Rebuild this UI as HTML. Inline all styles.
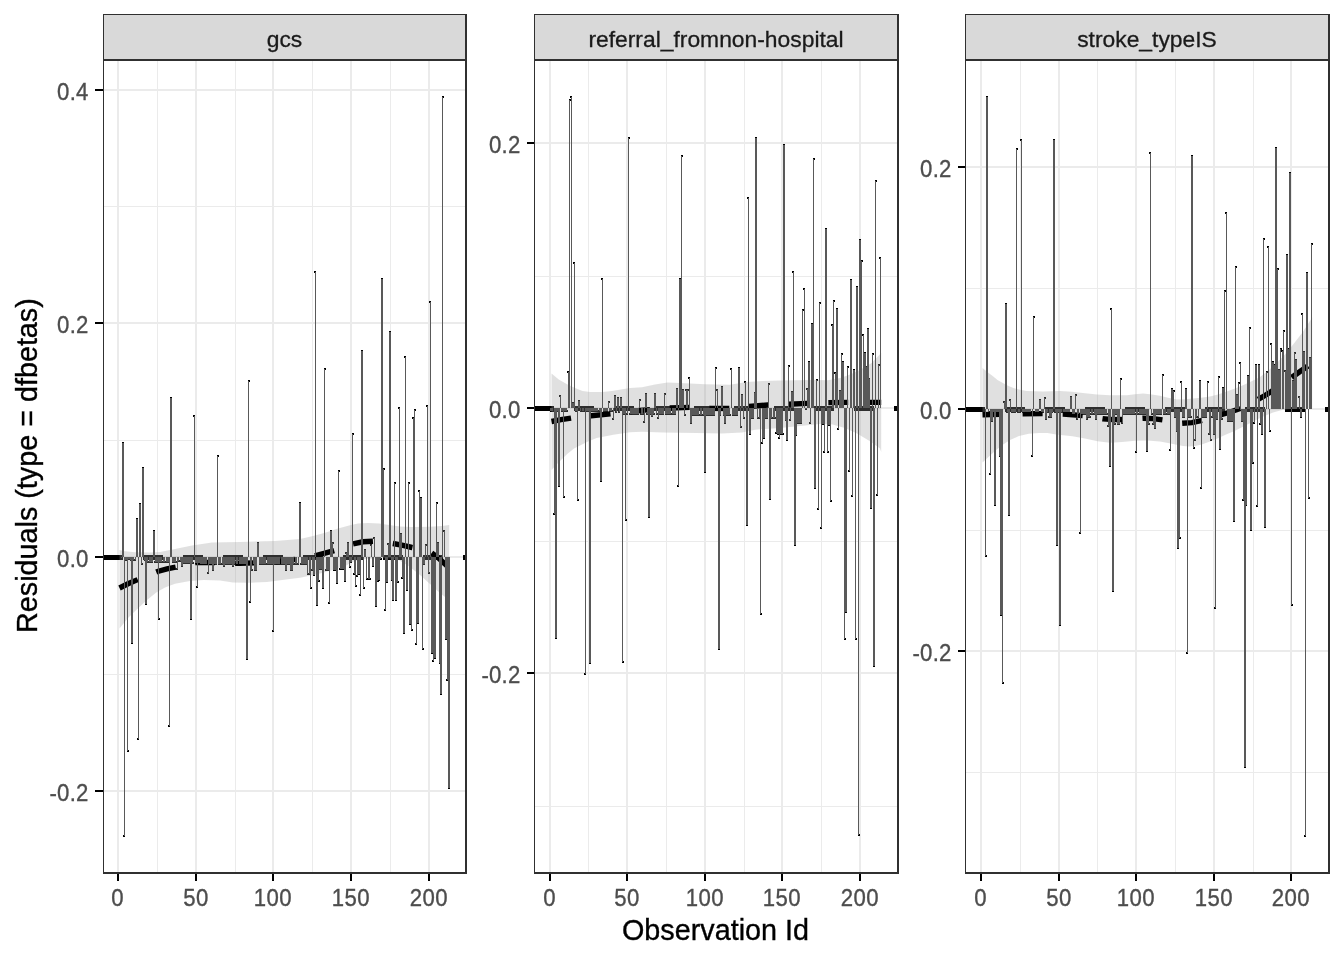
<!DOCTYPE html>
<html lang="en"><head><meta charset="utf-8"><title>Residuals (type = dfbetas)</title>
<style>html,body{margin:0;padding:0;background:#fff;}body{width:1344px;height:960px;overflow:hidden;}svg{display:block;}text{font-family:"Liberation Sans",Arial,sans-serif;}.at{font-size:24.5px;fill:#4d4d4d;stroke:#4d4d4d;stroke-width:0.35px;}.st{font-size:22.85px;fill:#1a1a1a;stroke:#1a1a1a;stroke-width:0.3px;}.ti{font-size:28.75px;fill:#000;stroke:#000;stroke-width:0.35px;}</style>
</head><body>
<svg width="1344" height="960" viewBox="0 0 1344 960">
<rect x="0" y="0" width="1344" height="960" fill="#fff"/>
<g>
<clipPath id="c0"><rect x="103" y="60" width="364" height="814"/></clipPath>
<rect x="103" y="14" width="364" height="46" fill="#d9d9d9"/>
<g clip-path="url(#c0)">
<path d="M103 206h364v1h-364zM103 440h364v1h-364zM103 674h364v1h-364zM157 59h1v815h-1zM235 59h1v815h-1zM312 59h1v815h-1zM390 59h1v815h-1zM103 89h364v2h-364zM103 322h364v2h-364zM103 556h364v2h-364zM103 790h364v2h-364zM117 59h2v815h-2zM195 59h2v815h-2zM272 59h2v815h-2zM350 59h2v815h-2zM428 59h2v815h-2z" fill="#ebebeb"/>
<path d="M119 556h2v2h-2zM120 557h2v2h-2zM122 442h2v2h-2zM123 835h2v2h-2zM125 559h2v2h-2zM127 750h2v2h-2zM128 558h2v2h-2zM130 559h2v2h-2zM131 642h2v2h-2zM133 559h2v2h-2zM134 559h2v2h-2zM136 518h2v2h-2zM137 738h2v2h-2zM139 503h2v2h-2zM141 563h2v2h-2zM142 467h2v2h-2zM144 559h2v2h-2zM145 603h2v2h-2zM147 561h2v2h-2zM148 561h2v2h-2zM150 561h2v2h-2zM151 561h2v2h-2zM153 530h2v2h-2zM154 561h2v2h-2zM156 561h2v2h-2zM158 618h2v2h-2zM159 561h2v2h-2zM161 561h2v2h-2zM162 561h2v2h-2zM164 561h2v2h-2zM165 561h2v2h-2zM167 561h2v2h-2zM168 725h2v2h-2zM170 397h2v2h-2zM172 561h2v2h-2zM173 561h2v2h-2zM175 561h2v2h-2zM176 568h2v2h-2zM178 560h2v2h-2zM179 560h2v2h-2zM181 565h2v2h-2zM182 562h2v2h-2zM184 562h2v2h-2zM186 562h2v2h-2zM187 562h2v2h-2zM189 562h2v2h-2zM190 618h2v2h-2zM192 562h2v2h-2zM193 415h2v2h-2zM195 562h2v2h-2zM196 586h2v2h-2zM198 562h2v2h-2zM200 563h2v2h-2zM201 563h2v2h-2zM203 563h2v2h-2zM204 563h2v2h-2zM206 563h2v2h-2zM207 572h2v2h-2zM209 563h2v2h-2zM210 563h2v2h-2zM212 569h2v2h-2zM213 563h2v2h-2zM215 563h2v2h-2zM217 455h2v2h-2zM218 563h2v2h-2zM220 563h2v2h-2zM221 563h2v2h-2zM223 565h2v2h-2zM224 563h2v2h-2zM226 563h2v2h-2zM227 563h2v2h-2zM229 563h2v2h-2zM231 563h2v2h-2zM232 565h2v2h-2zM234 563h2v2h-2zM235 563h2v2h-2zM237 563h2v2h-2zM238 563h2v2h-2zM240 563h2v2h-2zM241 563h2v2h-2zM243 563h2v2h-2zM245 563h2v2h-2zM246 658h2v2h-2zM248 380h2v2h-2zM249 601h2v2h-2zM251 569h2v2h-2zM252 563h2v2h-2zM254 569h2v2h-2zM255 569h2v2h-2zM257 542h2v2h-2zM259 563h2v2h-2zM260 563h2v2h-2zM262 563h2v2h-2zM263 563h2v2h-2zM265 563h2v2h-2zM266 563h2v2h-2zM268 563h2v2h-2zM269 563h2v2h-2zM271 563h2v2h-2zM272 630h2v2h-2zM274 563h2v2h-2zM276 563h2v2h-2zM277 563h2v2h-2zM279 563h2v2h-2zM280 563h2v2h-2zM282 563h2v2h-2zM283 563h2v2h-2zM285 569h2v2h-2zM286 563h2v2h-2zM288 563h2v2h-2zM290 569h2v2h-2zM291 569h2v2h-2zM293 563h2v2h-2zM294 563h2v2h-2zM296 563h2v2h-2zM297 563h2v2h-2zM299 502h2v2h-2zM300 563h2v2h-2zM302 563h2v2h-2zM304 563h2v2h-2zM305 563h2v2h-2zM307 573h2v2h-2zM308 573h2v2h-2zM310 587h2v2h-2zM311 569h2v2h-2zM313 574h2v2h-2zM314 271h2v2h-2zM316 604h2v2h-2zM318 580h2v2h-2zM319 568h2v2h-2zM321 568h2v2h-2zM322 587h2v2h-2zM324 368h2v2h-2zM325 569h2v2h-2zM327 569h2v2h-2zM328 602h2v2h-2zM330 530h2v2h-2zM332 542h2v2h-2zM333 569h2v2h-2zM335 569h2v2h-2zM336 582h2v2h-2zM338 470h2v2h-2zM339 568h2v2h-2zM341 568h2v2h-2zM342 568h2v2h-2zM344 580h2v2h-2zM345 552h2v2h-2zM347 542h2v2h-2zM349 566h2v2h-2zM350 561h2v2h-2zM352 433h2v2h-2zM353 573h2v2h-2zM355 585h2v2h-2zM356 575h2v2h-2zM358 573h2v2h-2zM359 594h2v2h-2zM361 350h2v2h-2zM363 587h2v2h-2zM364 549h2v2h-2zM366 578h2v2h-2zM367 578h2v2h-2zM369 578h2v2h-2zM370 544h2v2h-2zM372 565h2v2h-2zM373 537h2v2h-2zM375 605h2v2h-2zM377 580h2v2h-2zM378 579h2v2h-2zM380 558h2v2h-2zM381 278h2v2h-2zM383 468h2v2h-2zM384 609h2v2h-2zM386 581h2v2h-2zM387 543h2v2h-2zM389 331h2v2h-2zM391 579h2v2h-2zM392 599h2v2h-2zM394 482h2v2h-2zM395 599h2v2h-2zM397 581h2v2h-2zM398 407h2v2h-2zM400 533h2v2h-2zM401 577h2v2h-2zM403 632h2v2h-2zM404 356h2v2h-2zM406 589h2v2h-2zM408 482h2v2h-2zM409 623h2v2h-2zM411 629h2v2h-2zM412 417h2v2h-2zM414 409h2v2h-2zM415 643h2v2h-2zM417 622h2v2h-2zM418 490h2v2h-2zM420 497h2v2h-2zM422 648h2v2h-2zM423 563h2v2h-2zM425 544h2v2h-2zM426 405h2v2h-2zM428 572h2v2h-2zM429 301h2v2h-2zM431 652h2v2h-2zM432 660h2v2h-2zM434 657h2v2h-2zM436 502h2v2h-2zM437 542h2v2h-2zM439 662h2v2h-2zM440 693h2v2h-2zM442 96h2v2h-2zM443 530h2v2h-2zM445 638h2v2h-2zM446 679h2v2h-2zM448 787h2v2h-2z" fill="#000" shape-rendering="crispEdges"/>
<path d="M103 555h20v5h-20zM143 555h20v5h-20zM183 555h20v5h-20zM223 555h20v5h-20zM263 555h20v5h-20zM303 555h20v5h-20zM343 555h20v5h-20zM383 555h20v5h-20zM423 555h20v5h-20zM463 555h4v5h-4z" fill="#000"/>
<polygon points="119.5,550 125,551.3 135,552.3 150,552.5 160,552 175,549 192,545.5 212,542.5 240,542 275,541 300,539 312,536.3 325,532.8 338,528.5 350,525.3 358,523.5 368,523 379,523.5 391,525.3 400,526.5 412,527 430,526.7 442,526 449.2,525 449.2,601 445,597 440,593 430,584 420,575 410,567 399.2,560.3 390,558.5 380,558 365,559 352,562 346.7,565.3 340,567.5 331.7,570.3 322,573 312,575.3 300,577.8 290,579 267,582 250,582.8 233,582.5 220,580.5 203.75,580 190,581 175,583.75 165,587.5 156.25,592.5 147,600 137.5,608.75 128,618 119.5,628.5" fill="#999" fill-opacity="0.3"/>
<polyline points="119.5,588 128,583.8 138,579.5 148,575.2 157.5,571.5 167,568.8 176,567 188,563.3 200,562.2 220,562.8 240,563.3 260,562.7 280,561.5 298,559 314,556 325,553.2 335,550.3 345,546.6 353,543.9 363,541.8 373,541.2 383,541.8 393,543.5 403,545.4 412,547.5 422,549.5 431,552.5 438,557.5 445,564 449.2,568" stroke="#000" stroke-width="5.4" stroke-dasharray="20.05 20.05" fill="none"/>
<path d="M121 557h1v1h-1zM122 443h2v114h-2zM124 557h1v279h-1zM125 557h2v3h-2zM127 557h1v194h-1zM128 557h2v2h-2zM130 557h1v3h-1zM131 557h2v86h-2zM133 557h1v3h-1zM135 557h1v3h-1zM136 519h2v38h-2zM138 557h1v182h-1zM139 504h2v53h-2zM141 557h1v7h-1zM142 468h2v89h-2zM144 557h1v3h-1zM145 557h2v47h-2zM147 557h1v5h-1zM149 557h1v5h-1zM150 557h2v5h-2zM152 557h1v5h-1zM153 531h2v26h-2zM155 557h1v5h-1zM156 557h2v5h-2zM158 557h1v62h-1zM159 557h2v5h-2zM161 557h1v5h-1zM163 557h1v5h-1zM164 557h1v5h-1zM166 557h1v5h-1zM167 557h2v5h-2zM169 557h1v169h-1zM170 398h2v159h-2zM172 557h1v5h-1zM173 557h2v5h-2zM175 557h1v5h-1zM177 557h1v12h-1zM178 557h1v4h-1zM180 557h1v4h-1zM181 557h2v9h-2zM183 557h1v6h-1zM184 557h2v6h-2zM186 557h1v6h-1zM187 557h2v6h-2zM189 557h1v6h-1zM190 557h2v62h-2zM192 557h1v6h-1zM194 416h1v141h-1zM195 557h2v6h-2zM197 557h1v30h-1zM198 557h2v6h-2zM200 557h1v7h-1zM201 557h2v7h-2zM203 557h1v7h-1zM204 557h2v7h-2zM206 557h1v7h-1zM208 557h1v16h-1zM209 557h2v7h-2zM211 557h1v7h-1zM212 557h2v13h-2zM214 557h1v7h-1zM215 557h2v7h-2zM217 456h1v101h-1zM218 557h2v7h-2zM220 557h1v7h-1zM222 557h1v7h-1zM223 557h2v9h-2zM225 557h1v7h-1zM226 557h2v7h-2zM228 557h1v7h-1zM229 557h2v7h-2zM231 557h1v7h-1zM232 557h2v9h-2zM234 557h1v7h-1zM236 557h1v7h-1zM237 557h1v7h-1zM239 557h1v7h-1zM240 557h2v7h-2zM242 557h1v7h-1zM243 557h2v7h-2zM245 557h1v7h-1zM246 557h2v102h-2zM248 381h1v176h-1zM250 557h1v45h-1zM251 557h1v13h-1zM253 557h1v7h-1zM254 557h2v13h-2zM256 557h1v13h-1zM257 543h2v14h-2zM259 557h1v7h-1zM260 557h2v7h-2zM262 557h1v7h-1zM263 557h2v7h-2zM265 557h1v7h-1zM267 557h1v7h-1zM268 557h2v7h-2zM270 557h1v7h-1zM271 557h2v7h-2zM273 557h1v74h-1zM274 557h2v7h-2zM276 557h1v7h-1zM277 557h2v7h-2zM279 557h1v7h-1zM281 557h1v7h-1zM282 557h2v7h-2zM284 557h1v7h-1zM285 557h2v13h-2zM287 557h1v7h-1zM288 557h2v7h-2zM290 557h1v13h-1zM291 557h2v13h-2zM293 557h1v7h-1zM295 557h1v7h-1zM296 557h1v7h-1zM298 557h1v7h-1zM299 503h2v54h-2zM301 557h1v7h-1zM302 557h2v7h-2zM304 557h1v7h-1zM305 557h2v7h-2zM307 557h1v17h-1zM309 557h1v17h-1zM310 557h1v31h-1zM312 557h1v13h-1zM313 557h2v18h-2zM315 272h1v285h-1zM316 557h2v48h-2zM318 557h1v24h-1zM319 557h2v12h-2zM321 557h1v12h-1zM322 557h2v31h-2zM324 369h1v188h-1zM326 557h1v13h-1zM327 557h2v13h-2zM329 557h1v46h-1zM330 531h2v26h-2zM332 543h1v14h-1zM333 557h2v13h-2zM335 557h1v13h-1zM336 557h2v26h-2zM338 471h1v86h-1zM340 557h1v12h-1zM341 557h2v12h-2zM343 557h1v12h-1zM344 557h2v24h-2zM346 553h1v4h-1zM347 543h2v14h-2zM349 557h1v10h-1zM350 557h2v5h-2zM352 434h1v123h-1zM354 557h1v17h-1zM355 557h1v29h-1zM357 557h1v19h-1zM358 557h2v17h-2zM360 557h1v38h-1zM361 351h2v206h-2zM363 557h1v31h-1zM364 550h2v7h-2zM366 557h1v22h-1zM368 557h1v22h-1zM369 557h1v22h-1zM371 545h1v12h-1zM372 557h2v9h-2zM374 538h1v19h-1zM375 557h2v49h-2zM377 557h1v24h-1zM378 557h2v23h-2zM380 557h1v2h-1zM381 279h2v278h-2zM383 469h1v88h-1zM385 557h1v53h-1zM386 557h2v25h-2zM388 544h1v13h-1zM389 332h2v225h-2zM391 557h1v23h-1zM392 557h2v43h-2zM394 483h1v74h-1zM395 557h2v43h-2zM397 557h1v25h-1zM399 408h1v149h-1zM400 534h2v23h-2zM402 557h1v21h-1zM403 557h2v76h-2zM405 357h1v200h-1zM406 557h2v33h-2zM408 483h1v74h-1zM409 557h2v67h-2zM411 557h1v73h-1zM413 418h1v139h-1zM414 410h1v147h-1zM416 557h1v87h-1zM417 557h2v66h-2zM419 491h1v66h-1zM420 498h2v59h-2zM422 557h1v92h-1zM423 557h2v7h-2zM425 545h1v12h-1zM427 406h1v151h-1zM428 557h1v16h-1zM430 302h1v255h-1zM431 557h2v96h-2zM433 557h1v104h-1zM434 557h2v101h-2zM436 503h1v54h-1zM437 543h2v14h-2zM439 557h1v106h-1zM440 557h2v137h-2zM442 97h1v460h-1zM444 531h1v26h-1zM445 557h2v82h-2zM447 557h1v123h-1zM448 557h2v231h-2z" fill="#595959" shape-rendering="crispEdges"/>
</g>
<path d="M103 14h364v1h-364z M103 59h364v2h-364z M103 872h364v2h-364z M103 14h1v860h-1z M465 14h2v860h-2z" fill="#303030"/>
<path d="M95 89h8v2h-8z M95 322h8v2h-8z M95 556h8v2h-8z M95 790h8v2h-8z M117 874h2v7h-2z M195 874h2v7h-2z M272 874h2v7h-2z M350 874h2v7h-2z M428 874h2v7h-2z" fill="#000"/>
<text class="at" transform="translate(88.6 99.7) scale(0.905 1)" text-anchor="end" letter-spacing="0.25">0.4</text>
<text class="at" transform="translate(88.6 333.4) scale(0.905 1)" text-anchor="end" letter-spacing="0.25">0.2</text>
<text class="at" transform="translate(88.6 567.1) scale(0.905 1)" text-anchor="end" letter-spacing="0.25">0.0</text>
<text class="at" transform="translate(88.6 800.8) scale(0.905 1)" text-anchor="end" letter-spacing="0.25">-0.2</text>
<text class="at" transform="translate(117.4 906) scale(0.905 1)" text-anchor="middle" letter-spacing="0">0</text>
<text class="at" transform="translate(195.95 906) scale(0.905 1)" text-anchor="middle" letter-spacing="0.45">50</text>
<text class="at" transform="translate(272.95 906) scale(0.905 1)" text-anchor="middle" letter-spacing="0.45">100</text>
<text class="at" transform="translate(350.95 906) scale(0.905 1)" text-anchor="middle" letter-spacing="0.45">150</text>
<text class="at" transform="translate(428.95 906) scale(0.905 1)" text-anchor="middle" letter-spacing="0.45">200</text>
<text class="st" x="284.5" y="46.8" text-anchor="middle">gcs</text>
</g>
<g>
<clipPath id="c1"><rect x="534" y="60" width="365" height="814"/></clipPath>
<rect x="534" y="14" width="365" height="46" fill="#d9d9d9"/>
<g clip-path="url(#c1)">
<path d="M534 276h365v1h-365zM534 541h365v1h-365zM534 806h365v1h-365zM588 59h1v815h-1zM666 59h1v815h-1zM744 59h1v815h-1zM821 59h1v815h-1zM534 142h365v2h-365zM534 407h365v2h-365zM534 672h365v2h-365zM549 59h2v815h-2zM626 59h2v815h-2zM704 59h2v815h-2zM781 59h2v815h-2zM859 59h2v815h-2z" fill="#ebebeb"/>
<path d="M550 410h2v2h-2zM552 410h2v2h-2zM553 513h2v2h-2zM555 637h2v2h-2zM556 410h2v2h-2zM558 485h2v2h-2zM559 395h2v2h-2zM561 410h2v2h-2zM563 496h2v2h-2zM564 410h2v2h-2zM566 410h2v2h-2zM567 371h2v2h-2zM569 99h2v2h-2zM570 96h2v2h-2zM572 402h2v2h-2zM573 262h2v2h-2zM575 410h2v2h-2zM577 499h2v2h-2zM578 400h2v2h-2zM580 410h2v2h-2zM581 410h2v2h-2zM583 410h2v2h-2zM584 673h2v2h-2zM586 410h2v2h-2zM587 410h2v2h-2zM589 662h2v2h-2zM591 410h2v2h-2zM592 410h2v2h-2zM594 410h2v2h-2zM595 410h2v2h-2zM597 410h2v2h-2zM598 410h2v2h-2zM600 480h2v2h-2zM601 278h2v2h-2zM603 410h2v2h-2zM605 410h2v2h-2zM606 410h2v2h-2zM608 401h2v2h-2zM609 410h2v2h-2zM611 410h2v2h-2zM612 418h2v2h-2zM614 395h2v2h-2zM615 411h2v2h-2zM617 397h2v2h-2zM618 411h2v2h-2zM620 397h2v2h-2zM622 661h2v2h-2zM623 413h2v2h-2zM625 519h2v2h-2zM626 413h2v2h-2zM628 137h2v2h-2zM629 413h2v2h-2zM631 413h2v2h-2zM632 413h2v2h-2zM634 413h2v2h-2zM636 413h2v2h-2zM637 413h2v2h-2zM639 399h2v2h-2zM640 413h2v2h-2zM642 413h2v2h-2zM643 421h2v2h-2zM645 393h2v2h-2zM646 413h2v2h-2zM648 516h2v2h-2zM650 413h2v2h-2zM651 415h2v2h-2zM653 413h2v2h-2zM654 393h2v2h-2zM656 413h2v2h-2zM657 417h2v2h-2zM659 413h2v2h-2zM660 413h2v2h-2zM662 413h2v2h-2zM664 393h2v2h-2zM665 413h2v2h-2zM667 413h2v2h-2zM668 413h2v2h-2zM670 413h2v2h-2zM671 413h2v2h-2zM673 413h2v2h-2zM674 413h2v2h-2zM676 388h2v2h-2zM677 485h2v2h-2zM679 278h2v2h-2zM681 155h2v2h-2zM682 389h2v2h-2zM684 414h2v2h-2zM685 389h2v2h-2zM687 389h2v2h-2zM688 377h2v2h-2zM690 422h2v2h-2zM691 414h2v2h-2zM693 414h2v2h-2zM695 414h2v2h-2zM696 414h2v2h-2zM698 414h2v2h-2zM699 414h2v2h-2zM701 414h2v2h-2zM702 414h2v2h-2zM704 471h2v2h-2zM705 414h2v2h-2zM707 414h2v2h-2zM709 414h2v2h-2zM710 414h2v2h-2zM712 414h2v2h-2zM713 414h2v2h-2zM715 367h2v2h-2zM716 389h2v2h-2zM718 648h2v2h-2zM719 414h2v2h-2zM721 386h2v2h-2zM723 414h2v2h-2zM724 422h2v2h-2zM726 414h2v2h-2zM727 414h2v2h-2zM729 414h2v2h-2zM730 368h2v2h-2zM732 414h2v2h-2zM733 414h2v2h-2zM735 414h2v2h-2zM736 414h2v2h-2zM738 367h2v2h-2zM740 426h2v2h-2zM741 394h2v2h-2zM743 417h2v2h-2zM744 381h2v2h-2zM746 524h2v2h-2zM747 197h2v2h-2zM749 433h2v2h-2zM750 417h2v2h-2zM752 417h2v2h-2zM754 392h2v2h-2zM755 137h2v2h-2zM757 417h2v2h-2zM758 417h2v2h-2zM760 613h2v2h-2zM761 442h2v2h-2zM763 437h2v2h-2zM764 417h2v2h-2zM766 417h2v2h-2zM768 383h2v2h-2zM769 498h2v2h-2zM771 417h2v2h-2zM772 417h2v2h-2zM774 417h2v2h-2zM775 432h2v2h-2zM777 433h2v2h-2zM778 437h2v2h-2zM780 433h2v2h-2zM782 433h2v2h-2zM783 144h2v2h-2zM785 419h2v2h-2zM786 439h2v2h-2zM788 365h2v2h-2zM789 419h2v2h-2zM791 391h2v2h-2zM792 271h2v2h-2zM794 544h2v2h-2zM795 434h2v2h-2zM797 422h2v2h-2zM799 422h2v2h-2zM800 422h2v2h-2zM802 309h2v2h-2zM803 288h2v2h-2zM805 408h2v2h-2zM806 388h2v2h-2zM808 361h2v2h-2zM809 422h2v2h-2zM811 323h2v2h-2zM813 158h2v2h-2zM814 487h2v2h-2zM816 379h2v2h-2zM817 508h2v2h-2zM819 302h2v2h-2zM820 527h2v2h-2zM822 423h2v2h-2zM823 451h2v2h-2zM825 228h2v2h-2zM827 451h2v2h-2zM828 424h2v2h-2zM830 500h2v2h-2zM831 324h2v2h-2zM833 300h2v2h-2zM834 372h2v2h-2zM836 308h2v2h-2zM837 428h2v2h-2zM839 390h2v2h-2zM841 353h2v2h-2zM842 361h2v2h-2zM844 638h2v2h-2zM845 611h2v2h-2zM847 366h2v2h-2zM848 470h2v2h-2zM850 279h2v2h-2zM851 495h2v2h-2zM853 369h2v2h-2zM855 638h2v2h-2zM856 286h2v2h-2zM858 834h2v2h-2zM859 239h2v2h-2zM861 260h2v2h-2zM862 334h2v2h-2zM864 352h2v2h-2zM865 366h2v2h-2zM867 328h2v2h-2zM868 378h2v2h-2zM870 507h2v2h-2zM872 353h2v2h-2zM873 665h2v2h-2zM875 180h2v2h-2zM876 494h2v2h-2zM878 364h2v2h-2zM879 257h2v2h-2z" fill="#000" shape-rendering="crispEdges"/>
<path d="M534 406h20v5h-20zM574 406h20v5h-20zM614 406h20v5h-20zM654 406h20v5h-20zM694 406h20v5h-20zM734 406h20v5h-20zM774 406h20v5h-20zM814 406h20v5h-20zM854 406h20v5h-20zM894 406h5v5h-5z" fill="#000"/>
<polygon points="551.5,373.5 558.75,379.4 567.5,384.4 575,388.1 582.5,391 590,391.9 602.5,392 612,391 618,390 630,388 642,387.2 655,384.5 667.5,382.6 680,383 705,384.25 730,384.7 746.7,382 763,381 780,380.5 813,380 828,380.3 840,378 847.5,375.5 857.5,371.3 864,367.5 871.3,363.3 879.7,354.5 881.2,353 881.2,452 880,448.5 870,441.3 857.5,433.8 845,428 832.5,424.5 821.7,423.8 805,425.5 780,428 755,429.7 742,432.6 721.7,433.6 696.7,433 663,432.6 642,431.8 630,432.2 613.3,434.7 596.7,438 588,441.5 580,445.5 574,448.5 567.5,453.75 559,462 551.5,470" fill="#999" fill-opacity="0.3"/>
<polyline points="551.5,421.5 561,419.7 571.7,418 581,416.8 591,415.8 611,413.8 640,410.5 670,408 690,407.4 710,408.3 730,408.5 748.75,406.5 768,405 788.75,404.2 807,403.4 828.3,402.6 847,402.4 870,402.4 881.2,402.4" stroke="#000" stroke-width="5.4" stroke-dasharray="19.85 19.85" fill="none"/>
<path d="M550 408h2v3h-2zM552 408h1v3h-1zM554 408h1v106h-1zM555 408h2v230h-2zM557 408h1v3h-1zM558 408h2v78h-2zM560 396h1v12h-1zM561 408h2v3h-2zM563 408h1v89h-1zM564 408h2v3h-2zM566 408h1v3h-1zM568 372h1v36h-1zM569 100h1v308h-1zM571 97h1v311h-1zM572 403h2v5h-2zM574 263h1v145h-1zM575 408h2v3h-2zM577 408h1v92h-1zM578 401h2v7h-2zM580 408h1v3h-1zM582 408h1v3h-1zM583 408h1v3h-1zM585 408h1v266h-1zM586 408h2v3h-2zM588 408h1v3h-1zM589 408h2v255h-2zM591 408h1v3h-1zM592 408h2v3h-2zM594 408h1v3h-1zM595 408h2v3h-2zM597 408h1v3h-1zM599 408h1v3h-1zM600 408h2v73h-2zM602 279h1v129h-1zM603 408h2v3h-2zM605 408h1v3h-1zM606 408h2v3h-2zM608 402h1v6h-1zM609 408h2v3h-2zM611 408h1v3h-1zM613 408h1v11h-1zM614 396h2v12h-2zM616 408h1v4h-1zM617 398h2v10h-2zM619 408h1v4h-1zM620 398h2v10h-2zM622 408h1v254h-1zM623 408h2v6h-2zM625 408h1v112h-1zM627 408h1v6h-1zM628 138h1v270h-1zM630 408h1v6h-1zM631 408h2v6h-2zM633 408h1v6h-1zM634 408h2v6h-2zM636 408h1v6h-1zM637 408h2v6h-2zM639 400h1v8h-1zM641 408h1v6h-1zM642 408h1v6h-1zM644 408h1v14h-1zM645 394h2v14h-2zM647 408h1v6h-1zM648 408h2v109h-2zM650 408h1v6h-1zM651 408h2v8h-2zM653 408h1v6h-1zM654 394h2v14h-2zM656 408h1v6h-1zM658 408h1v10h-1zM659 408h2v6h-2zM661 408h1v6h-1zM662 408h2v6h-2zM664 394h1v14h-1zM665 408h2v6h-2zM667 408h1v6h-1zM668 408h2v6h-2zM670 408h1v6h-1zM672 408h1v6h-1zM673 408h2v6h-2zM675 408h1v6h-1zM676 389h2v19h-2zM678 408h1v78h-1zM679 279h2v129h-2zM681 156h1v252h-1zM682 390h2v18h-2zM684 408h1v7h-1zM686 390h1v18h-1zM687 390h1v18h-1zM689 378h1v30h-1zM690 408h2v15h-2zM692 408h1v7h-1zM693 408h2v7h-2zM695 408h1v7h-1zM696 408h2v7h-2zM698 408h1v7h-1zM700 408h1v7h-1zM701 408h1v7h-1zM703 408h1v7h-1zM704 408h2v64h-2zM706 408h1v7h-1zM707 408h2v7h-2zM709 408h1v7h-1zM710 408h2v7h-2zM712 408h1v7h-1zM713 408h2v7h-2zM715 368h1v40h-1zM717 390h1v18h-1zM718 408h2v241h-2zM720 408h1v7h-1zM721 387h2v21h-2zM723 408h1v7h-1zM724 408h2v15h-2zM726 408h1v7h-1zM727 408h2v7h-2zM729 408h1v7h-1zM731 369h1v39h-1zM732 408h2v7h-2zM734 408h1v7h-1zM735 408h2v7h-2zM737 408h1v7h-1zM738 368h2v40h-2zM740 408h1v19h-1zM741 395h2v13h-2zM743 408h1v10h-1zM745 382h1v26h-1zM746 408h2v117h-2zM748 198h1v210h-1zM749 408h2v26h-2zM751 408h1v10h-1zM752 408h2v10h-2zM754 393h1v15h-1zM755 138h2v270h-2zM757 408h1v10h-1zM759 408h1v10h-1zM760 408h1v206h-1zM762 408h1v35h-1zM763 408h2v30h-2zM765 408h1v10h-1zM766 408h2v10h-2zM768 384h1v24h-1zM769 408h2v91h-2zM771 408h1v10h-1zM773 408h1v10h-1zM774 408h1v10h-1zM776 408h1v25h-1zM777 408h2v26h-2zM779 408h1v30h-1zM780 408h2v26h-2zM782 408h1v26h-1zM783 145h2v263h-2zM785 408h1v12h-1zM786 408h2v32h-2zM788 366h1v42h-1zM790 408h1v12h-1zM791 392h2v16h-2zM793 272h1v136h-1zM794 408h2v137h-2zM796 408h1v27h-1zM797 408h2v15h-2zM799 408h1v15h-1zM800 408h2v15h-2zM802 310h1v98h-1zM804 289h1v119h-1zM805 408h2v1h-2zM807 389h1v19h-1zM808 362h2v46h-2zM810 408h1v15h-1zM811 324h2v84h-2zM813 159h1v249h-1zM814 408h2v80h-2zM816 380h1v28h-1zM818 408h1v101h-1zM819 303h1v105h-1zM821 408h1v120h-1zM822 408h2v16h-2zM824 408h1v44h-1zM825 229h2v179h-2zM827 408h1v44h-1zM828 408h2v17h-2zM830 408h1v93h-1zM832 325h1v83h-1zM833 301h1v107h-1zM835 373h1v35h-1zM836 309h2v99h-2zM838 408h1v21h-1zM839 391h2v17h-2zM841 354h1v54h-1zM842 362h2v46h-2zM844 408h1v231h-1zM845 408h2v204h-2zM847 367h1v41h-1zM849 408h1v63h-1zM850 280h2v128h-2zM852 408h1v88h-1zM853 370h2v38h-2zM855 408h1v231h-1zM856 287h2v121h-2zM858 408h1v427h-1zM859 240h2v168h-2zM861 261h1v147h-1zM863 335h1v73h-1zM864 353h2v55h-2zM866 367h1v41h-1zM867 329h2v79h-2zM869 379h1v29h-1zM870 408h2v100h-2zM872 354h1v54h-1zM873 408h2v258h-2zM875 181h1v227h-1zM877 408h1v87h-1zM878 365h1v43h-1zM880 258h1v150h-1z" fill="#595959" shape-rendering="crispEdges"/>
</g>
<path d="M534 14h365v1h-365z M534 59h365v2h-365z M534 872h365v2h-365z M534 14h1v860h-1z M897 14h2v860h-2z" fill="#303030"/>
<path d="M527 142h7v2h-7z M527 407h7v2h-7z M527 672h7v2h-7z M549 874h2v7h-2z M626 874h2v7h-2z M704 874h2v7h-2z M781 874h2v7h-2z M859 874h2v7h-2z" fill="#000"/>
<text class="at" transform="translate(520.5 153.1) scale(0.905 1)" text-anchor="end" letter-spacing="0.25">0.2</text>
<text class="at" transform="translate(520.5 418.1) scale(0.905 1)" text-anchor="end" letter-spacing="0.25">0.0</text>
<text class="at" transform="translate(520.5 683.1) scale(0.905 1)" text-anchor="end" letter-spacing="0.25">-0.2</text>
<text class="at" transform="translate(549.4 906) scale(0.905 1)" text-anchor="middle" letter-spacing="0">0</text>
<text class="at" transform="translate(626.95 906) scale(0.905 1)" text-anchor="middle" letter-spacing="0.45">50</text>
<text class="at" transform="translate(704.95 906) scale(0.905 1)" text-anchor="middle" letter-spacing="0.45">100</text>
<text class="at" transform="translate(781.95 906) scale(0.905 1)" text-anchor="middle" letter-spacing="0.45">150</text>
<text class="at" transform="translate(859.95 906) scale(0.905 1)" text-anchor="middle" letter-spacing="0.45">200</text>
<text class="st" x="716" y="46.8" text-anchor="middle">referral_fromnon-hospital</text>
</g>
<g>
<clipPath id="c2"><rect x="965" y="60" width="365" height="814"/></clipPath>
<rect x="965" y="14" width="365" height="46" fill="#d9d9d9"/>
<g clip-path="url(#c2)">
<path d="M965 288h365v1h-365zM965 530h365v1h-365zM965 772h365v1h-365zM1020 59h1v815h-1zM1097 59h1v815h-1zM1175 59h1v815h-1zM1253 59h1v815h-1zM965 166h365v2h-365zM965 408h365v2h-365zM965 650h365v2h-365zM980 59h2v815h-2zM1058 59h2v815h-2zM1135 59h2v815h-2zM1213 59h2v815h-2zM1290 59h2v815h-2z" fill="#ebebeb"/>
<path d="M982 408h2v2h-2zM983 408h2v2h-2zM985 555h2v2h-2zM986 96h2v2h-2zM988 411h2v2h-2zM989 473h2v2h-2zM991 420h2v2h-2zM992 411h2v2h-2zM994 504h2v2h-2zM995 411h2v2h-2zM997 411h2v2h-2zM999 455h2v2h-2zM1000 614h2v2h-2zM1002 682h2v2h-2zM1003 401h2v2h-2zM1005 303h2v2h-2zM1006 411h2v2h-2zM1008 514h2v2h-2zM1009 399h2v2h-2zM1011 411h2v2h-2zM1013 411h2v2h-2zM1014 411h2v2h-2zM1016 148h2v2h-2zM1017 411h2v2h-2zM1019 411h2v2h-2zM1020 139h2v2h-2zM1022 411h2v2h-2zM1023 411h2v2h-2zM1025 411h2v2h-2zM1027 411h2v2h-2zM1028 411h2v2h-2zM1030 411h2v2h-2zM1031 455h2v2h-2zM1033 316h2v2h-2zM1034 411h2v2h-2zM1036 411h2v2h-2zM1037 411h2v2h-2zM1039 399h2v2h-2zM1041 411h2v2h-2zM1042 411h2v2h-2zM1044 397h2v2h-2zM1045 418h2v2h-2zM1047 411h2v2h-2zM1048 416h2v2h-2zM1050 416h2v2h-2zM1051 411h2v2h-2zM1053 139h2v2h-2zM1054 411h2v2h-2zM1056 544h2v2h-2zM1058 411h2v2h-2zM1059 624h2v2h-2zM1061 411h2v2h-2zM1062 411h2v2h-2zM1064 411h2v2h-2zM1065 411h2v2h-2zM1067 411h2v2h-2zM1068 411h2v2h-2zM1070 396h2v2h-2zM1072 413h2v2h-2zM1073 413h2v2h-2zM1075 394h2v2h-2zM1076 418h2v2h-2zM1078 413h2v2h-2zM1079 532h2v2h-2zM1081 413h2v2h-2zM1082 413h2v2h-2zM1084 413h2v2h-2zM1086 418h2v2h-2zM1087 416h2v2h-2zM1089 416h2v2h-2zM1090 413h2v2h-2zM1092 413h2v2h-2zM1093 413h2v2h-2zM1095 418h2v2h-2zM1096 413h2v2h-2zM1098 413h2v2h-2zM1100 413h2v2h-2zM1101 413h2v2h-2zM1103 413h2v2h-2zM1104 413h2v2h-2zM1106 413h2v2h-2zM1107 425h2v2h-2zM1109 465h2v2h-2zM1110 308h2v2h-2zM1112 590h2v2h-2zM1114 423h2v2h-2zM1115 413h2v2h-2zM1117 423h2v2h-2zM1118 423h2v2h-2zM1120 378h2v2h-2zM1121 422h2v2h-2zM1123 413h2v2h-2zM1124 413h2v2h-2zM1126 413h2v2h-2zM1127 413h2v2h-2zM1129 413h2v2h-2zM1131 413h2v2h-2zM1132 413h2v2h-2zM1134 413h2v2h-2zM1135 451h2v2h-2zM1137 413h2v2h-2zM1138 413h2v2h-2zM1140 413h2v2h-2zM1141 413h2v2h-2zM1143 413h2v2h-2zM1145 413h2v2h-2zM1146 450h2v2h-2zM1148 423h2v2h-2zM1149 152h2v2h-2zM1151 413h2v2h-2zM1152 423h2v2h-2zM1154 427h2v2h-2zM1155 413h2v2h-2zM1157 413h2v2h-2zM1159 413h2v2h-2zM1160 413h2v2h-2zM1162 374h2v2h-2zM1163 413h2v2h-2zM1165 413h2v2h-2zM1166 413h2v2h-2zM1168 413h2v2h-2zM1169 449h2v2h-2zM1171 388h2v2h-2zM1173 390h2v2h-2zM1174 416h2v2h-2zM1176 430h2v2h-2zM1177 547h2v2h-2zM1179 537h2v2h-2zM1180 381h2v2h-2zM1182 416h2v2h-2zM1183 416h2v2h-2zM1185 388h2v2h-2zM1186 652h2v2h-2zM1188 416h2v2h-2zM1190 416h2v2h-2zM1191 155h2v2h-2zM1193 447h2v2h-2zM1194 439h2v2h-2zM1196 416h2v2h-2zM1197 416h2v2h-2zM1199 380h2v2h-2zM1200 487h2v2h-2zM1202 416h2v2h-2zM1204 416h2v2h-2zM1205 416h2v2h-2zM1207 381h2v2h-2zM1208 433h2v2h-2zM1210 439h2v2h-2zM1211 416h2v2h-2zM1213 433h2v2h-2zM1214 607h2v2h-2zM1216 418h2v2h-2zM1218 376h2v2h-2zM1219 448h2v2h-2zM1221 418h2v2h-2zM1222 387h2v2h-2zM1224 290h2v2h-2zM1225 212h2v2h-2zM1227 420h2v2h-2zM1228 420h2v2h-2zM1230 420h2v2h-2zM1232 420h2v2h-2zM1233 520h2v2h-2zM1235 266h2v2h-2zM1236 394h2v2h-2zM1238 382h2v2h-2zM1239 362h2v2h-2zM1241 420h2v2h-2zM1242 499h2v2h-2zM1244 766h2v2h-2zM1245 504h2v2h-2zM1247 375h2v2h-2zM1249 327h2v2h-2zM1250 529h2v2h-2zM1252 462h2v2h-2zM1253 422h2v2h-2zM1255 364h2v2h-2zM1256 505h2v2h-2zM1258 364h2v2h-2zM1259 423h2v2h-2zM1261 433h2v2h-2zM1263 238h2v2h-2zM1264 526h2v2h-2zM1266 371h2v2h-2zM1267 246h2v2h-2zM1269 430h2v2h-2zM1270 343h2v2h-2zM1272 361h2v2h-2zM1273 364h2v2h-2zM1275 147h2v2h-2zM1277 268h2v2h-2zM1278 369h2v2h-2zM1280 348h2v2h-2zM1281 350h2v2h-2zM1283 330h2v2h-2zM1284 370h2v2h-2zM1286 254h2v2h-2zM1287 348h2v2h-2zM1289 172h2v2h-2zM1291 604h2v2h-2zM1292 380h2v2h-2zM1294 352h2v2h-2zM1295 359h2v2h-2zM1297 408h2v2h-2zM1298 396h2v2h-2zM1300 416h2v2h-2zM1301 313h2v2h-2zM1303 351h2v2h-2zM1304 835h2v2h-2zM1306 272h2v2h-2zM1308 497h2v2h-2zM1309 357h2v2h-2zM1311 243h2v2h-2z" fill="#000" shape-rendering="crispEdges"/>
<path d="M965 407h20v5h-20zM1005 407h20v5h-20zM1045 407h20v5h-20zM1085 407h20v5h-20zM1125 407h20v5h-20zM1165 407h20v5h-20zM1205 407h20v5h-20zM1245 407h20v5h-20zM1285 407h20v5h-20zM1325 407h5v5h-5z" fill="#000"/>
<polygon points="982.5,368 988,372.5 993.3,376.5 997.5,380 1003.3,383.2 1008,385.7 1014,388.2 1020,389.8 1026.7,391 1043,391.5 1060,391 1072,391.8 1085,393.2 1097,394.5 1110,395.25 1126.7,395.25 1135,394.3 1143,393.4 1150,394.2 1160,395.7 1168,397.8 1176.7,399.4 1185,399.2 1193,398.6 1201,397.8 1210,396.5 1218,394.5 1226.7,391.5 1235,388.5 1243,385.25 1251,381.5 1260,377 1269,370 1278,361.7 1284.5,355 1290.8,347.5 1297,339.5 1303,331.7 1308,324 1312.2,317.5 1312.2,408 1300,408.4 1292,408.8 1282,410 1273,412.5 1265,415.7 1258,419 1251.7,422.3 1243,426.8 1235,430.7 1226,434.5 1218,438.2 1210,441.5 1201.7,444.4 1195,446 1189,446.5 1183,446 1176.7,444.8 1168,443 1160,441.5 1147,440.6 1135,440.7 1122,442 1110,442.75 1097.5,441.2 1085,438.5 1072.5,436.2 1056,434.4 1047.5,433 1039,433 1028.75,433.75 1019,436 1010,440 1002,445.3 995,451 989,456.5 982.5,462.5" fill="#999" fill-opacity="0.3"/>
<polyline points="982.5,414.8 1000,414.2 1023,413.7 1043,413.6 1063,414 1083,415.6 1093,417.3 1103,418.8 1113,419.6 1124,419.5 1134,418.7 1143,418.2 1153,418.6 1163,420 1172,422 1182,423.3 1192,422.6 1201,420.6 1211,418 1222,414.5 1231,411.8 1241,408.3 1250,404 1258,399.5 1265,395.5 1272,391 1281,385 1291,378 1300,371.5 1308,366 1312.2,363" stroke="#000" stroke-width="5.4" stroke-dasharray="20.05 20.05" fill="none"/>
<path d="M985 409h1v147h-1zM986 97h2v312h-2zM988 409h1v3h-1zM990 409h1v65h-1zM991 409h2v12h-2zM993 409h1v3h-1zM994 409h2v96h-2zM996 409h1v3h-1zM997 409h2v3h-2zM999 409h1v47h-1zM1000 409h2v206h-2zM1002 409h1v274h-1zM1004 402h1v7h-1zM1005 304h2v105h-2zM1007 409h1v3h-1zM1008 409h2v106h-2zM1010 400h1v9h-1zM1011 409h2v3h-2zM1013 409h1v3h-1zM1014 409h2v3h-2zM1016 149h1v260h-1zM1018 409h1v3h-1zM1019 409h1v3h-1zM1021 140h1v269h-1zM1022 409h2v3h-2zM1024 409h1v3h-1zM1025 409h2v3h-2zM1027 409h1v3h-1zM1028 409h2v3h-2zM1030 409h1v3h-1zM1032 409h1v47h-1zM1033 317h1v92h-1zM1035 409h1v3h-1zM1036 409h2v3h-2zM1038 409h1v3h-1zM1039 400h2v9h-2zM1041 409h1v3h-1zM1042 409h2v3h-2zM1044 398h1v11h-1zM1045 409h2v10h-2zM1047 409h1v3h-1zM1049 409h1v8h-1zM1050 409h2v8h-2zM1052 409h1v3h-1zM1053 140h2v269h-2zM1055 409h1v3h-1zM1056 409h2v136h-2zM1058 409h1v3h-1zM1059 409h2v216h-2zM1061 409h1v3h-1zM1063 409h1v3h-1zM1064 409h2v3h-2zM1066 409h1v3h-1zM1067 409h2v3h-2zM1069 409h1v3h-1zM1070 397h2v12h-2zM1072 409h1v5h-1zM1073 409h2v5h-2zM1075 395h1v14h-1zM1077 409h1v10h-1zM1078 409h1v5h-1zM1080 409h1v124h-1zM1081 409h2v5h-2zM1083 409h1v5h-1zM1084 409h2v5h-2zM1086 409h1v10h-1zM1087 409h2v8h-2zM1089 409h1v8h-1zM1091 409h1v5h-1zM1092 409h1v5h-1zM1094 409h1v5h-1zM1095 409h2v10h-2zM1097 409h1v5h-1zM1098 409h2v5h-2zM1100 409h1v5h-1zM1101 409h2v5h-2zM1103 409h1v5h-1zM1104 409h2v5h-2zM1106 409h1v5h-1zM1108 409h1v17h-1zM1109 409h2v57h-2zM1111 309h1v100h-1zM1112 409h2v182h-2zM1114 409h1v15h-1zM1115 409h2v5h-2zM1117 409h1v15h-1zM1118 409h2v15h-2zM1120 379h1v30h-1zM1122 409h1v14h-1zM1123 409h2v5h-2zM1125 409h1v5h-1zM1126 409h2v5h-2zM1128 409h1v5h-1zM1129 409h2v5h-2zM1131 409h1v5h-1zM1132 409h2v5h-2zM1134 409h1v5h-1zM1136 409h1v43h-1zM1137 409h1v5h-1zM1139 409h1v5h-1zM1140 409h2v5h-2zM1142 409h1v5h-1zM1143 409h2v5h-2zM1145 409h1v5h-1zM1146 409h2v42h-2zM1148 409h1v15h-1zM1150 153h1v256h-1zM1151 409h1v5h-1zM1153 409h1v15h-1zM1154 409h2v19h-2zM1156 409h1v5h-1zM1157 409h2v5h-2zM1159 409h1v5h-1zM1160 409h2v5h-2zM1162 375h1v34h-1zM1163 409h2v5h-2zM1165 409h1v5h-1zM1167 409h1v5h-1zM1168 409h2v5h-2zM1170 409h1v41h-1zM1171 389h2v20h-2zM1173 391h1v18h-1zM1174 409h2v8h-2zM1176 409h1v22h-1zM1177 409h2v139h-2zM1179 409h1v129h-1zM1181 382h1v27h-1zM1182 409h2v8h-2zM1184 409h1v8h-1zM1185 389h2v20h-2zM1187 409h1v244h-1zM1188 409h2v8h-2zM1190 409h1v8h-1zM1191 156h2v253h-2zM1193 409h1v39h-1zM1195 409h1v31h-1zM1196 409h1v8h-1zM1198 409h1v8h-1zM1199 381h2v28h-2zM1201 409h1v79h-1zM1202 409h2v8h-2zM1204 409h1v8h-1zM1205 409h2v8h-2zM1207 382h1v27h-1zM1209 409h1v25h-1zM1210 409h1v31h-1zM1212 409h1v8h-1zM1213 409h2v25h-2zM1215 409h1v199h-1zM1216 409h2v10h-2zM1218 377h1v32h-1zM1219 409h2v40h-2zM1221 409h1v10h-1zM1222 388h2v21h-2zM1224 291h1v118h-1zM1226 213h1v196h-1zM1227 409h2v12h-2zM1229 409h1v12h-1zM1230 409h2v12h-2zM1232 409h1v12h-1zM1233 409h2v112h-2zM1235 267h1v142h-1zM1236 395h2v14h-2zM1238 383h1v26h-1zM1240 363h1v46h-1zM1241 409h2v12h-2zM1243 409h1v91h-1zM1244 409h2v358h-2zM1246 409h1v96h-1zM1247 376h2v33h-2zM1249 328h1v81h-1zM1250 409h2v121h-2zM1252 409h1v54h-1zM1254 409h1v14h-1zM1255 365h2v44h-2zM1257 409h1v97h-1zM1258 365h2v44h-2zM1260 409h1v15h-1zM1261 409h2v25h-2zM1263 239h1v170h-1zM1264 409h2v118h-2zM1266 372h1v37h-1zM1268 247h1v162h-1zM1269 409h1v22h-1zM1271 344h1v65h-1zM1272 362h2v47h-2zM1274 365h1v44h-1zM1275 148h2v261h-2zM1277 269h1v140h-1zM1278 370h2v39h-2zM1280 349h1v60h-1zM1282 351h1v58h-1zM1283 331h1v78h-1zM1285 371h1v38h-1zM1286 255h2v154h-2zM1288 349h1v60h-1zM1289 173h2v236h-2zM1291 409h1v196h-1zM1292 381h2v28h-2zM1294 353h1v56h-1zM1295 360h2v49h-2zM1299 397h1v12h-1zM1300 409h2v8h-2zM1302 314h1v95h-1zM1303 352h2v57h-2zM1305 409h1v427h-1zM1306 273h2v136h-2zM1308 409h1v89h-1zM1309 358h2v51h-2zM1311 244h1v165h-1z" fill="#595959" shape-rendering="crispEdges"/>
</g>
<path d="M965 14h365v1h-365z M965 59h365v2h-365z M965 872h365v2h-365z M965 14h1v860h-1z M1328 14h2v860h-2z" fill="#303030"/>
<path d="M958 166h7v2h-7z M958 408h7v2h-7z M958 650h7v2h-7z M980 874h2v7h-2z M1058 874h2v7h-2z M1135 874h2v7h-2z M1213 874h2v7h-2z M1290 874h2v7h-2z" fill="#000"/>
<text class="at" transform="translate(951.6 177.1) scale(0.905 1)" text-anchor="end" letter-spacing="0.25">0.2</text>
<text class="at" transform="translate(951.6 419.1) scale(0.905 1)" text-anchor="end" letter-spacing="0.25">0.0</text>
<text class="at" transform="translate(951.6 661.1) scale(0.905 1)" text-anchor="end" letter-spacing="0.25">-0.2</text>
<text class="at" transform="translate(980.4 906) scale(0.905 1)" text-anchor="middle" letter-spacing="0">0</text>
<text class="at" transform="translate(1058.95 906) scale(0.905 1)" text-anchor="middle" letter-spacing="0.45">50</text>
<text class="at" transform="translate(1135.95 906) scale(0.905 1)" text-anchor="middle" letter-spacing="0.45">100</text>
<text class="at" transform="translate(1213.95 906) scale(0.905 1)" text-anchor="middle" letter-spacing="0.45">150</text>
<text class="at" transform="translate(1290.95 906) scale(0.905 1)" text-anchor="middle" letter-spacing="0.45">200</text>
<text class="st" x="1147" y="46.8" text-anchor="middle">stroke_typeIS</text>
</g>
<text class="ti" x="715.5" y="940" text-anchor="middle">Observation Id</text>
<text class="ti" transform="translate(36.6 465.6) rotate(-90)" text-anchor="middle">Residuals (type = dfbetas)</text>
</svg>
</body></html>
